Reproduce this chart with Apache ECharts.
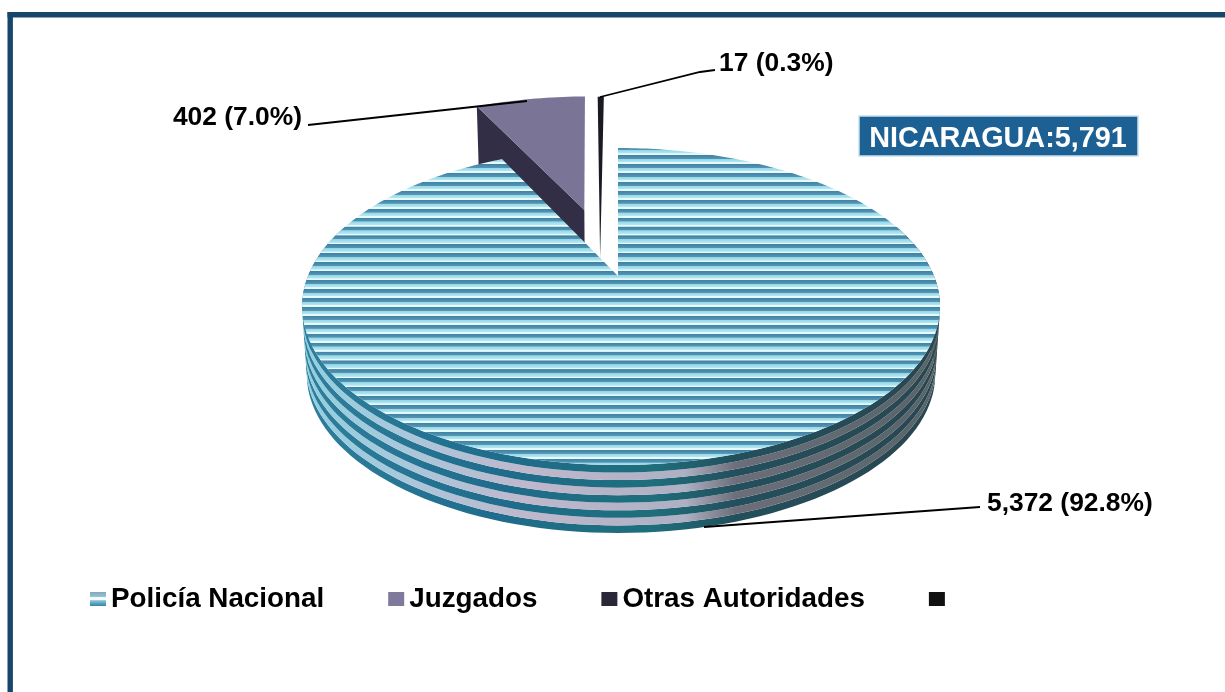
<!DOCTYPE html>
<html>
<head>
<meta charset="utf-8">
<title>Nicaragua</title>
<script src="https://cdn.jsdelivr.net/npm/echarts@6/dist/echarts.min.js"></script>
<style>
html, body { margin: 0; padding: 0; background: #fff; }
#main { width: 1225px; height: 692px; }
</style>
</head>
<body>
<div id="main"></div>
<script>
// datos
var categories = [ 'Policía Nacional', 'Juzgados', 'Otras Autoridades' ];
var values = [ 5372, 402, 17 ];
var shareLabels = [ '92.8%', '7.0%', '0.3%' ];
var boxCountry = 'NICARAGUA';

var FONT = '"Liberation Sans", Arial, sans-serif';

// perspectiva del disco
var APEX_X = 618, APEX_Y = 276;
var PERSP = 0.1925, SCALE_Y = 152.6, SCALE_L = 310, SCALE_R = 316;
var SHRINK = 0.015;

// separacion de cada sector: centro en el disco, radio, grosor
var sliceGeo = [
	{ uc : 0, vc : 0, r : 1, depth : 68 },
	{ uc : -0.1185, vc : 0.472, r : 1.05, depth : 68 },
	{ uc : -0.059, vc : 0.1276, r : 1.39, depth : 20 }
];

function project(u, v, t, depth) {
	var w = 1 + PERSP * v;
	var a = u < 0 ? SCALE_L : SCALE_R;
	var x = a * u / w;
	var y = APEX_Y - SCALE_Y * v / w;
	return [ APEX_X + x * (1 - SHRINK * t), y + depth * t ];
}

function rimPoint(geo, deg, t) {
	var rad = deg * Math.PI / 180;
	return project(geo.uc + geo.r * Math.sin(rad), geo.vc + geo.r
			* Math.cos(rad), t, geo.depth);
}

function sliceAngles(index) {
	var total = 0, before = 0;
	for (var i = 0; i < values.length; i++) {
		total += values[i];
		if (i < index) {
			before += values[i];
		}
	}
	return [ before / total * 360, (before + values[index]) / total * 360 ];
}

// rayas horizontales de la cara superior
function stripeFill() {
	var top = 140, bottom = 480, period = 8.93, first = 156.7 - period * 2;
	var stops = [];
	var span = bottom - top;
	for (var y = first; y < bottom; y += period) {
		var marks = [ [ 0, '#3f82a4' ], [ 0.4, '#5594b4' ], [ 0.44, '#93d6e6' ],
				[ 0.78, '#b4e8f2' ], [ 0.82, '#e8f9fc' ], [ 0.98, '#e8f9fc' ] ];
		for (var i = 0; i < marks.length; i++) {
			var off = (y - 1.5 + marks[i][0] * period - top) / span;
			if (off >= 0 && off <= 1) {
				stops.push({ offset : off, color : marks[i][1] });
			}
		}
	}
	return new echarts.graphic.LinearGradient(0, top, 0, bottom, stops, true);
}

function wallFill(stops) {
	var list = [];
	for (var i = 0; i < stops.length; i++) {
		list.push({ offset : stops[i][0], color : stops[i][1] });
	}
	return new echarts.graphic.LinearGradient(302, 0, 940, 0, list, true);
}

var wallDark = wallFill([ [ 0, '#2f7f9c' ], [ 0.3, '#1f6c8c' ], [ 0.55, '#1f6e7c' ],
		[ 0.68, '#234f5c' ], [ 1, '#2a4650' ] ]);
var wallLight = wallFill([ [ 0, '#8fd0e0' ], [ 0.15, '#a8c8dc' ], [ 0.35, '#c0b8cc' ],
		[ 0.6, '#aeb0c4' ], [ 0.68, '#6c6e7a' ], [ 1, '#566468' ] ]);

function renderMain(params, api) {
	var geo = sliceGeo[0];
	var ang = sliceAngles(0);
	var children = [];
	var bands = 9;
	for (var b = bands - 1; b >= 0; b--) {
		var pts = [];
		var t0 = b / bands, t1 = (b + 1) / bands;
		for (var d = 70; d <= 290; d += 2) {
			pts.push(rimPoint(geo, d, t0));
		}
		for (var d2 = 290; d2 >= 70; d2 -= 2) {
			pts.push(rimPoint(geo, d2, t1));
		}
		children.push({
			type : 'polygon',
			shape : { points : pts },
			style : { fill : b % 2 === 0 ? wallDark : wallLight }
		});
	}
	var surface = [ project(geo.uc, geo.vc, 0, 0) ];
	for (var a = ang[0]; a < ang[1]; a += 1) {
		surface.push(rimPoint(geo, a, 0));
	}
	surface.push(rimPoint(geo, ang[1], 0));
	children.push({
		type : 'polygon',
		shape : { points : surface },
		style : { fill : stripeFill() }
	});
	return { type : 'group', children : children };
}

function renderWedge(index, topColor, wallColor) {
	var geo = sliceGeo[index];
	var ang = sliceAngles(index);
	var apex = project(geo.uc, geo.vc, 0, 0);
	var apexLow = project(geo.uc, geo.vc, 1, geo.depth);
	var surface = [ apex ];
	var step = (ang[1] - ang[0]) / 20;
	for (var i = 0; i <= 20; i++) {
		surface.push(rimPoint(geo, ang[0] + step * i, 0));
	}
	return {
		type : 'group',
		children : [ {
			type : 'polygon',
			shape : {
				points : [ apex, rimPoint(geo, ang[0], 0),
						rimPoint(geo, ang[0], 1), apexLow ]
			},
			style : { fill : wallColor }
		}, {
			type : 'polygon',
			shape : { points : surface },
			style : { fill : topColor }
		} ]
	};
}

function pointLabel(index) {
	return values[index].toLocaleString('en-US') + ' (' + shareLabels[index] + ')';
}

function leader(points) {
	return {
		type : 'polyline',
		z : 10,
		shape : { points : points },
		style : { stroke : '#000', lineWidth : 1.8, fill : null }
	};
}

function labelText(text, x, y, align) {
	return {
		type : 'text',
		z : 10,
		x : x,
		y : y,
		style : {
			text : text,
			fill : '#000',
			font : 'bold 26.4px ' + FONT,
			align : align,
			verticalAlign : 'middle'
		}
	};
}

var total = 0;
for (var n = 0; n < values.length; n++) {
	total += values[n];
}

var myChart = echarts.init(document.getElementById('main'));
var option = {
	backgroundColor : '#fff',
	animation : false,
	legend : {
		left : 85,
		top : 580,
		itemWidth : 16,
		itemHeight : 14,
		itemGap : 64,
		selectedMode : false,
		icon : 'rect',
		textStyle : {
			color : '#000',
			fontFamily : FONT,
			fontWeight : 'bold',
			fontSize : 27.8
		},
		data : [ {
			name : categories[0],
			itemStyle : {
				color : new echarts.graphic.LinearGradient(0, 0, 0, 1, [
					{ offset : 0, color : '#7fa9bd' },
					{ offset : 0.36, color : '#9fc0cf' },
					{ offset : 0.37, color : '#f4fbfd' },
					{ offset : 0.55, color : '#f4fbfd' },
					{ offset : 0.56, color : '#a5dcea' },
					{ offset : 0.72, color : '#6fb2c8' },
					{ offset : 1, color : '#2f87a5' } ])
			}
		}, {
			name : categories[1],
			itemStyle : { color : '#7f7a9c' }
		}, {
			name : categories[2],
			itemStyle : { color : '#2a2838' }
		}, {
			name : ' ',
			itemStyle : { color : '#111' }
		} ]
	},
	graphic : [ {
		type : 'rect',
		shape : { x : 7.5, y : 12, width : 1217.5, height : 5.4 },
		style : { fill : '#17466b' }
	}, {
		type : 'rect',
		shape : { x : 7.5, y : 12, width : 5.4, height : 680 },
		style : { fill : '#17466b' }
	}, {
		type : 'rect',
		z : 10,
		shape : { x : 859, y : 116, width : 279, height : 40 },
		style : { fill : '#1c6094', stroke : '#c8dff0', lineWidth : 1.5 }
	}, {
		type : 'text',
		z : 11,
		x : 998,
		y : 139,
		style : {
			text : boxCountry + ':' + total.toLocaleString('en-US'),
			fill : '#fff',
			font : 'bold 28.8px ' + FONT,
			align : 'center',
			verticalAlign : 'middle'
		}
	}, leader([ [ 704, 527 ], [ 980, 507 ] ]),
			leader([ [ 308, 125 ], [ 527, 101 ] ]),
			leader([ [ 600, 97 ], [ 700, 72 ], [ 715, 70 ] ]),
			labelText(pointLabel(0), 987, 503.5, 'left'),
			labelText(pointLabel(1), 302, 117.5, 'right'),
			labelText(pointLabel(2), 719, 63.5, 'left') ],
	series : [ {
		type : 'custom',
		name : categories[0],
		coordinateSystem : 'none',
		silent : true,
		z : 3,
		data : [ values[0] ],
		renderItem : renderMain
	}, {
		type : 'custom',
		name : categories[1],
		coordinateSystem : 'none',
		silent : true,
		z : 2,
		data : [ values[1] ],
		renderItem : function() {
			return renderWedge(1, '#7a7497', '#322e45');
		}
	}, {
		type : 'custom',
		name : categories[2],
		coordinateSystem : 'none',
		silent : true,
		z : 2,
		data : [ values[2] ],
		renderItem : function() {
			return renderWedge(2, '#1a1a22', '#1a1a22');
		}
	}, {
		type : 'custom',
		name : ' ',
		coordinateSystem : 'none',
		silent : true,
		data : [],
		renderItem : function() {
			return null;
		}
	} ]
};
myChart.setOption(option);
</script>
</body>
</html>
